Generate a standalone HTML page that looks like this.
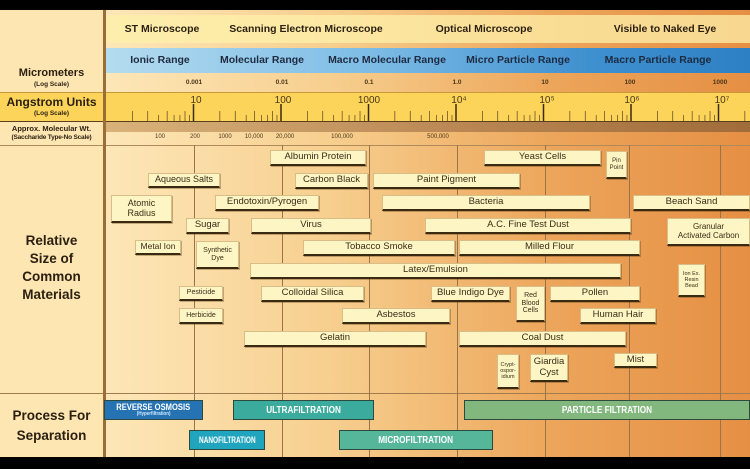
<!DOCTYPE html>
<html><head><meta charset="utf-8"><style>
*{margin:0;padding:0;box-sizing:border-box}
body{width:750px;height:469px;overflow:hidden;background:#000;position:relative;font-family:"Liberation Sans",sans-serif}
.a{position:absolute}
#chart{left:103px;top:10px;width:647px;height:447px;background:linear-gradient(90deg,#fde7b8 0%,#f7cf8f 35%,#eca55a 70%,#e58f44 100%)}
#left{left:0;top:10px;width:103px;height:447px;background:#fde6b2}
.lbl{position:absolute;left:0;width:103px;text-align:center;color:#2a1f10;font-weight:bold}
.b{position:absolute;background:#fdf6c4;border:1px solid #d8bd86;border-bottom:2px solid #3a2a12;color:#3a2c16;font-size:9.5px;text-align:center;display:flex;align-items:center;justify-content:center;line-height:1.1;box-shadow:1px 1px 0 rgba(90,60,20,.35)}
.g{position:absolute;top:145px;width:1px;height:312px;background:#9a7448}
.t{position:absolute;font-size:6.5px;color:#4a3618;transform:translateX(-50%);font-weight:bold}
.m{position:absolute;font-size:6px;color:#4a3618;transform:translateX(-50%)}
.ms{position:absolute;top:23px;font-size:10.5px;font-weight:bold;color:#2a1f10;transform:translateX(-50%);white-space:nowrap}
.rg{position:absolute;top:54px;font-size:10.5px;font-weight:bold;color:#1e2a40;transform:translateX(-50%);white-space:nowrap}
.p{position:absolute;color:#fff;font-weight:bold;font-size:10px;display:flex;align-items:center;justify-content:center;border:1px solid #2c4a40;white-space:nowrap;overflow:hidden}
.p span{display:inline-block;transform:scaleX(.82)}
</style></head><body>
<div id="left" class="a"></div>
<div id="chart" class="a"></div>
<div class="a" style="left:106px;top:15px;width:644px;height:28px;background:rgba(253,240,170,.75)"></div>
<div class="a" style="left:106px;top:48px;width:644px;height:25px;background:linear-gradient(90deg,#b4dcef,#7fbde6 40%,#3f90cf 75%,#2d80c4)"></div>
<div class="a" style="left:0;top:92px;width:750px;height:30px;background:#fcd45a;border-top:1px solid #c99a3a"></div>
<div class="a" style="left:0;top:121px;width:750px;height:1px;background:#5a4020"></div>
<div class="a" style="left:106px;top:122px;width:644px;height:10px;background:linear-gradient(90deg,#d9b27a,#b78350 60%,#a06c3a)"></div>
<div class="a" style="left:0;top:145px;width:750px;height:1px;background:#b08a5a"></div>
<div class="a" style="left:0;top:393px;width:750px;height:1px;background:#a07c50"></div>
<div class="a" style="left:103px;top:10px;width:3px;height:447px;background:#9a6e36"></div>
<div class="g" style="left:194px"></div><div class="g" style="left:282px"></div><div class="g" style="left:369px"></div><div class="g" style="left:457px"></div><div class="g" style="left:545px"></div><div class="g" style="left:629px"></div><div class="g" style="left:720px"></div>
<svg class="a" style="left:0;top:0" width="750" height="469" id="sv"></svg>
<div class="lbl" style="top:67px;font-size:11px">Micrometers</div>
<div class="lbl" style="top:81px;font-size:6.5px">(Log Scale)</div>
<div class="lbl" style="top:95px;font-size:12px">Angstrom Units</div>
<div class="lbl" style="top:110px;font-size:6.5px">(Log Scale)</div>
<div class="lbl" style="top:124px;font-size:7.5px">Approx. Molecular Wt.</div>
<div class="lbl" style="top:134px;font-size:6.5px;letter-spacing:-.2px">(Saccharide Type-No Scale)</div>
<div class="lbl" style="top:232px;font-size:13.5px;line-height:18px">Relative<br>Size of<br>Common<br>Materials</div>
<div class="lbl" style="top:406px;font-size:13.5px;line-height:20px">Process For<br>Separation</div>
<div class="ms" style="left:162px">ST Microscope</div>
<div class="ms" style="left:306px">Scanning Electron Microscope</div>
<div class="ms" style="left:484px">Optical Microscope</div>
<div class="ms" style="left:665px">Visible to Naked Eye</div>
<div class="rg" style="left:160px">Ionic Range</div>
<div class="rg" style="left:262px">Molecular Range</div>
<div class="rg" style="left:387px">Macro Molecular Range</div>
<div class="rg" style="left:518px">Micro Particle Range</div>
<div class="rg" style="left:658px">Macro Particle Range</div>
<div class="t" style="left:194px;top:79px">0.001</div><div class="t" style="left:282px;top:79px">0.01</div><div class="t" style="left:369px;top:79px">0.1</div><div class="t" style="left:457px;top:79px">1.0</div><div class="t" style="left:545px;top:79px">10</div><div class="t" style="left:630px;top:79px">100</div><div class="t" style="left:720px;top:79px">1000</div>
<div class="m" style="left:196px;top:95px;font-size:10px">10</div><div class="m" style="left:283px;top:95px;font-size:10px">100</div><div class="m" style="left:369px;top:95px;font-size:10px">1000</div><div class="m" style="left:459px;top:95px;font-size:10px">10⁴</div><div class="m" style="left:547px;top:95px;font-size:10px">10⁵</div><div class="m" style="left:632px;top:95px;font-size:10px">10⁶</div><div class="m" style="left:722px;top:95px;font-size:10px">10⁷</div>
<div class="m" style="left:160px;top:134px">100</div><div class="m" style="left:195px;top:134px">200</div><div class="m" style="left:225px;top:134px">1000</div><div class="m" style="left:254px;top:134px">10,000</div><div class="m" style="left:285px;top:134px">20,000</div><div class="m" style="left:342px;top:134px">100,000</div><div class="m" style="left:438px;top:134px">500,000</div>
<div class="b" style="left:270px;top:150px;width:96px;height:16px">Albumin Protein</div>
<div class="b" style="left:484px;top:150px;width:117px;height:16px">Yeast Cells</div>
<div class="b" style="left:606px;top:151px;width:21px;height:28px;font-size:6px">Pin<br>Point</div>
<div class="b" style="left:148px;top:173px;width:72px;height:15px;font-size:9px">Aqueous Salts</div>
<div class="b" style="left:295px;top:173px;width:73px;height:16px">Carbon Black</div>
<div class="b" style="left:373px;top:173px;width:147px;height:16px">Paint Pigment</div>
<div class="b" style="left:111px;top:195px;width:61px;height:28px;font-size:9px">Atomic<br>Radius</div>
<div class="b" style="left:215px;top:195px;width:104px;height:16px">Endotoxin/Pyrogen</div>
<div class="b" style="left:382px;top:195px;width:208px;height:16px">Bacteria</div>
<div class="b" style="left:633px;top:195px;width:117px;height:16px">Beach Sand</div>
<div class="b" style="left:186px;top:218px;width:43px;height:16px">Sugar</div>
<div class="b" style="left:251px;top:218px;width:120px;height:16px">Virus</div>
<div class="b" style="left:425px;top:218px;width:206px;height:16px">A.C. Fine Test Dust</div>
<div class="b" style="left:667px;top:218px;width:83px;height:28px;font-size:8px">Granular<br>Activated Carbon</div>
<div class="b" style="left:135px;top:240px;width:46px;height:15px;font-size:8.5px">Metal Ion</div>
<div class="b" style="left:196px;top:241px;width:43px;height:28px;font-size:7px">Synthetic<br>Dye</div>
<div class="b" style="left:303px;top:240px;width:152px;height:16px">Tobacco Smoke</div>
<div class="b" style="left:459px;top:240px;width:181px;height:16px">Milled Flour</div>
<div class="b" style="left:250px;top:263px;width:371px;height:16px">Latex/Emulsion</div>
<div class="b" style="left:678px;top:264px;width:27px;height:33px;font-size:5.5px">Ion Ex.<br>Resin<br>Bead</div>
<div class="b" style="left:179px;top:286px;width:44px;height:15px;font-size:7px">Pesticide</div>
<div class="b" style="left:261px;top:286px;width:103px;height:16px">Colloidal Silica</div>
<div class="b" style="left:431px;top:286px;width:79px;height:16px">Blue Indigo Dye</div>
<div class="b" style="left:516px;top:286px;width:29px;height:36px;font-size:7px">Red<br>Blood<br>Cells</div>
<div class="b" style="left:550px;top:286px;width:90px;height:16px">Pollen</div>
<div class="b" style="left:179px;top:308px;width:44px;height:16px;font-size:7px">Herbicide</div>
<div class="b" style="left:342px;top:308px;width:108px;height:16px">Asbestos</div>
<div class="b" style="left:580px;top:308px;width:76px;height:16px">Human Hair</div>
<div class="b" style="left:244px;top:331px;width:182px;height:16px">Gelatin</div>
<div class="b" style="left:459px;top:331px;width:167px;height:16px">Coal Dust</div>
<div class="b" style="left:497px;top:354px;width:22px;height:35px;font-size:5.5px">Crypt-<br>ospor-<br>idium</div>
<div class="b" style="left:530px;top:354px;width:38px;height:28px">Giardia<br>Cyst</div>
<div class="b" style="left:614px;top:353px;width:43px;height:15px">Mist</div>
<div class="p" style="left:104px;top:400px;width:99px;height:20px;background:#2673b4;flex-direction:column;line-height:1"><span style="font-size:9.5px;transform:scaleX(.8)">REVERSE OSMOSIS</span><span style="font-size:5.5px;color:#cfe6ff">(Hyperfiltration)</span></div>
<div class="p" style="left:233px;top:400px;width:141px;height:20px;background:#3aab9c"><span>ULTRAFILTRATION</span></div>
<div class="p" style="left:464px;top:400px;width:286px;height:20px;background:#82b77e"><span>PARTICLE FILTRATION</span></div>
<div class="p" style="left:189px;top:430px;width:76px;height:20px;background:#21a5bf"><span style="font-size:9px;transform:scaleX(.72)">NANOFILTRATION</span></div>
<div class="p" style="left:339px;top:430px;width:154px;height:20px;background:#55b69a"><span>MICROFILTRATION</span></div>
<script>
var s=document.getElementById('sv'),h='',o=[.301,.477,.602,.699,.778,.845,.903,.954];
for(var d=0;d<8;d++){var x0=106+d*87.5;
 if(d>0)h+='<line x1="'+x0+'" y1="104" x2="'+x0+'" y2="121" stroke="#3a2a10" stroke-width="1.5"/>';
 for(var i=0;i<8;i++){var x=x0+o[i]*87.5;if(x>750)break;var L=(i==0||i==1||i==3||i==6)?10:6;
 h+='<line x1="'+x+'" y1="'+(121-L)+'" x2="'+x+'" y2="121" stroke="#5a4020" stroke-width="0.7"/>';}}
s.innerHTML=h;
</script>
</body></html>
